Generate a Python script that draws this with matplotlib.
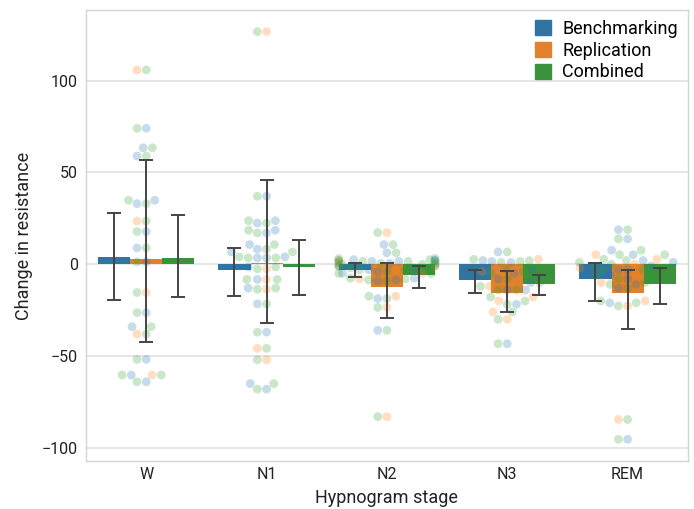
import numpy as np
import pandas as pd
import matplotlib
matplotlib.use("Agg")
import matplotlib.pyplot as plt
from matplotlib.patches import Patch
import seaborn as sns

plt.rcParams['font.family'] = ['Roboto', 'DejaVu Sans']

stages = ['W', 'N1', 'N2', 'N3', 'REM']
groups = ['Benchmarking', 'Replication', 'Combined']

# individual points (Combined = both sets together)
bench_pts = {
    'W': [74, 63.4, 58.9, 34.8, 33, 17.8, 8.9, 1.3, -26.4, -34, -51.8, -60.3, -64],
    'N1': [37, 23.7, 22.4, 18.5, 17, 10.7, 8.2, 6.7, 4, 3.4, 3.4, -1.5, -8.3, -13,
           -21.6, -37, -65, -68],
    'N2': [10.7, 6.2, 3.1, 2.5, 2, 1.6, 1.6, 1, 0.5, 0, -1, -2, -3, -4, -5, -7.6,
           -8.5, -9, -18.7, -36],
    'N3': [6.7, 2, 1.5, 1, -3, -5, -8, -10, -14, -14, -21.8, -43.3],
    'REM': [18.8, 13.8, 7.6, 5.2, 2, 1, -3, -1, -3, -6, -5, -11, -13, -21, -8, -95.3],
}
rep_pts = {
    'W': [105.8, 23.5, -15.4, -38, -60.3],
    'N1': [126.6, -2.5, -8.3, -13.6, -45.8, -52],
    'N2': [17.2, 2, 0, -1, -3, -5, -8, -17.4, -23.5, -83],
    'N3': [2.7, -4, -12, -17.8, -20, -26, -30],
    'REM': [5.2, 2.7, 0, -2, -6, -10, -20, -22.7, -84.5],
}

# bar heights and error bar limits (W, N1, N2, N3, REM)
bench_mean = [4.0, -2.9, -3.0, -8.7, -7.8]
bench_lo = [-19.6, -17.4, -7.2, -15.8, -19.8]
bench_hi = [27.7, 8.9, 0.4, -3.4, 0.4]
rep_mean = [3.0, 0.5, -12.3, -15.6, -15.6]
rep_lo = [-42.4, -32.0, -29.0, -26.0, -35.4]
rep_hi = [56.5, 46.0, 0.7, -3.6, -2.9]
comb_mean = [3.6, -1.5, -6.0, -10.9, -10.5]
comb_lo = [-17.8, -17.0, -12.7, -17.0, -21.4]
comb_hi = [27.0, 13.4, -0.9, -5.6, -2.3]

bar_colors = ['#3274a1', '#e1812c', '#3a923a']
pt_colors = ['#1f77b4', '#ff7f0e', '#2ca02c']

rows = []
for s in stages:
    for v in bench_pts[s]:
        rows.append((s, 'Benchmarking', v))
    for v in rep_pts[s]:
        rows.append((s, 'Replication', v))
    for v in bench_pts[s] + rep_pts[s]:
        rows.append((s, 'Combined', v))
df = pd.DataFrame(rows, columns=['stage', 'group', 'value'])

fig = plt.figure(figsize=(6.94, 5.09), dpi=100)
ax = fig.add_axes([0.124, 0.094, 0.867, 0.886])

sns.swarmplot(data=df, x='stage', y='value', hue='group', order=stages,
              hue_order=groups, palette=pt_colors, size=6.3, alpha=0.25,
              dodge=False, legend=False, ax=ax, zorder=3, linewidth=0)

x = np.arange(len(stages))
w = 0.8 / 3
means = [bench_mean, rep_mean, comb_mean]
los = [bench_lo, rep_lo, comb_lo]
his = [bench_hi, rep_hi, comb_hi]
for i in range(3):
    m = np.array(means[i])
    xi = x + (i - 1) * w
    ax.bar(xi, m, width=w, color=bar_colors[i], zorder=2)
    ax.errorbar(xi, m, yerr=[m - np.array(los[i]), np.array(his[i]) - m],
                fmt='none', ecolor='#444444', elinewidth=1.4, capsize=5,
                capthick=1.4, zorder=4)

ax.set_xlim(-0.5, 4.5)
ax.set_ylim(-107.2, 138.3)
ax.set_xticks(x)
ax.set_xticklabels(stages)
ax.set_yticks([-100, -50, 0, 50, 100])
ax.tick_params(length=0, labelsize=11.5, colors='#222222')
ax.tick_params(axis='x', pad=4)
ax.tick_params(axis='y', pad=6)
ax.yaxis.grid(True, color='#e2e2e2', linewidth=1.2)
ax.xaxis.grid(False)
ax.set_axisbelow(True)
for sp in ax.spines.values():
    sp.set_color('#d4d4d4')
    sp.set_linewidth(1.0)

ax.set_xlabel('Hypnogram stage', fontsize=13, color='#222222', labelpad=5)
ax.set_ylabel('Change in resistance', fontsize=13, color='#222222', labelpad=6)

handles = [Patch(color=c, label=g) for c, g in zip(bar_colors, groups)]
ax.legend(handles=handles, loc='upper right', frameon=False, fontsize=13,
          handlelength=0.9, handleheight=0.9, handletextpad=0.6,
          labelspacing=0.2, borderaxespad=0.15)

fig.savefig('out.png', dpi=100)
